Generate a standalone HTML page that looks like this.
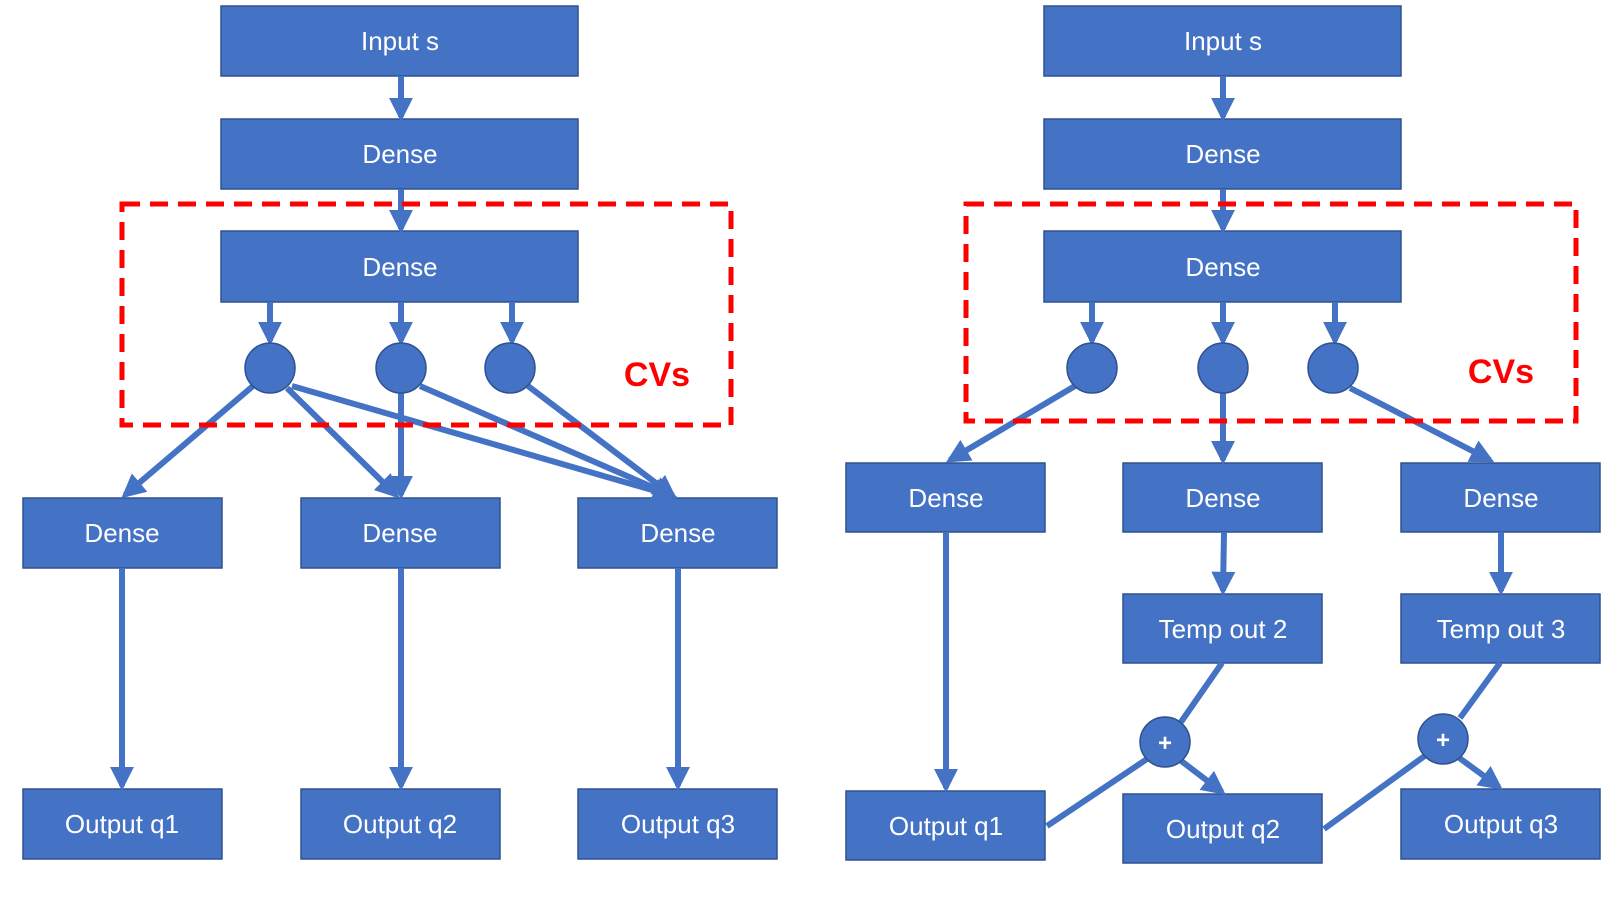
<!DOCTYPE html>
<html><head><meta charset="utf-8"><style>html,body{margin:0;padding:0;background:#fff}svg{display:block}text{font-family:"Liberation Sans",sans-serif}</style></head><body>
<svg width="1619" height="902" viewBox="0 0 1619 902" xmlns="http://www.w3.org/2000/svg">
<defs><marker id="a" markerWidth="4" markerHeight="4" refX="3.2" refY="2" orient="auto" markerUnits="strokeWidth"><path d="M0,0 L4,2 L0,4 z" fill="#4472C4"/></marker></defs>
<g fill="#4472C4" stroke="#2F528F" stroke-width="1.5">
<rect x="221" y="6" width="357" height="70"/><rect x="221" y="119" width="357" height="70"/><rect x="221" y="231" width="357" height="71"/>
<rect x="23" y="498" width="199" height="70"/><rect x="301" y="498" width="199" height="70"/><rect x="578" y="498" width="199" height="70"/>
<rect x="23" y="789" width="199" height="70"/><rect x="301" y="789" width="199" height="70"/><rect x="578" y="789" width="199" height="70"/>
<rect x="1044" y="6" width="357" height="70"/><rect x="1044" y="119" width="357" height="70"/><rect x="1044" y="231" width="357" height="71"/>
<rect x="846" y="463" width="199" height="69"/><rect x="1123" y="463" width="199" height="69"/><rect x="1401" y="463" width="199" height="69"/>
<rect x="1123" y="594" width="199" height="69"/><rect x="1401" y="594" width="199" height="69"/>
<rect x="846" y="791" width="199" height="69"/><rect x="1123" y="794" width="199" height="69"/><rect x="1401" y="789" width="199" height="70"/>
</g>
<g stroke="#4472C4" stroke-width="6" fill="none">
<line x1="401" y1="76" x2="401" y2="117" marker-end="url(#a)"/><line x1="401" y1="189" x2="401" y2="229" marker-end="url(#a)"/>
<line x1="270" y1="302" x2="270" y2="341" marker-end="url(#a)"/><line x1="401" y1="302" x2="401" y2="341" marker-end="url(#a)"/><line x1="512" y1="302" x2="512" y2="341" marker-end="url(#a)"/>
<line x1="253" y1="386" x2="125" y2="495" marker-end="url(#a)"/><line x1="287" y1="388" x2="396" y2="495" marker-end="url(#a)"/>
<line x1="292" y1="386" x2="673" y2="496" marker-end="url(#a)"/><line x1="420" y1="386" x2="673" y2="496" marker-end="url(#a)"/><line x1="528" y1="386" x2="673" y2="496" marker-end="url(#a)"/>
<line x1="401" y1="393" x2="401" y2="495" marker-end="url(#a)"/>
<line x1="122" y1="568" x2="122" y2="786" marker-end="url(#a)"/><line x1="401" y1="568" x2="401" y2="786" marker-end="url(#a)"/><line x1="678" y1="568" x2="678" y2="786" marker-end="url(#a)"/>
<line x1="1223" y1="76" x2="1223" y2="117" marker-end="url(#a)"/><line x1="1223" y1="189" x2="1223" y2="229" marker-end="url(#a)"/>
<line x1="1092" y1="302" x2="1092" y2="341" marker-end="url(#a)"/><line x1="1223" y1="302" x2="1223" y2="341" marker-end="url(#a)"/><line x1="1335" y1="302" x2="1335" y2="341" marker-end="url(#a)"/>
<line x1="1075" y1="386" x2="950" y2="460" marker-end="url(#a)"/><line x1="1223" y1="393" x2="1223" y2="460" marker-end="url(#a)"/><line x1="1350" y1="388" x2="1490" y2="460" marker-end="url(#a)"/>
<line x1="946" y1="532" x2="946" y2="788" marker-end="url(#a)"/><line x1="1224" y1="532" x2="1223" y2="591" marker-end="url(#a)"/><line x1="1501" y1="532" x2="1501" y2="591" marker-end="url(#a)"/>
<line x1="1222" y1="663" x2="1181" y2="722"/><line x1="1500" y1="663" x2="1460" y2="718"/>
<line x1="1047" y1="826" x2="1147" y2="759"/><line x1="1324" y1="829" x2="1426" y2="755"/>
<line x1="1180" y1="760" x2="1222" y2="792" marker-end="url(#a)"/><line x1="1458" y1="757" x2="1499" y2="787" marker-end="url(#a)"/>
</g>
<g fill="#4472C4" stroke="#2F528F" stroke-width="1.5">
<circle cx="270" cy="368" r="25"/><circle cx="401" cy="368" r="25"/><circle cx="510" cy="368" r="25"/>
<circle cx="1092" cy="368" r="25"/><circle cx="1223" cy="368" r="25"/><circle cx="1333" cy="368" r="25"/>
<circle cx="1165" cy="742" r="25"/><circle cx="1443" cy="739" r="25"/>
</g>
<g fill="none" stroke="#FF0000" stroke-width="5" stroke-dasharray="18,10">
<rect x="122" y="204" width="609" height="221"/><rect x="966" y="204" width="610" height="217"/>
</g>
<g fill="#fff" font-size="26" text-anchor="middle">
<text x="400" y="50">Input s</text><text x="400" y="163">Dense</text><text x="400" y="276">Dense</text>
<text x="122" y="542">Dense</text><text x="400" y="542">Dense</text><text x="678" y="542">Dense</text>
<text x="122" y="833">Output q1</text><text x="400" y="833">Output q2</text><text x="678" y="833">Output q3</text>
<text x="1223" y="50">Input s</text><text x="1223" y="163">Dense</text><text x="1223" y="276">Dense</text>
<text x="946" y="507">Dense</text><text x="1223" y="507">Dense</text><text x="1501" y="507">Dense</text>
<text x="1223" y="638">Temp out 2</text><text x="1501" y="638">Temp out 3</text>
<text x="946" y="835">Output q1</text><text x="1223" y="838">Output q2</text><text x="1501" y="833">Output q3</text>
<text x="1165" y="751" font-size="24" font-weight="bold">+</text><text x="1443" y="748" font-size="24" font-weight="bold">+</text>
</g>
<g fill="#FF0000" font-size="34" font-weight="bold" text-anchor="middle">
<text x="657" y="386">CVs</text><text x="1501" y="383">CVs</text>
</g>
</svg>
</body></html>
